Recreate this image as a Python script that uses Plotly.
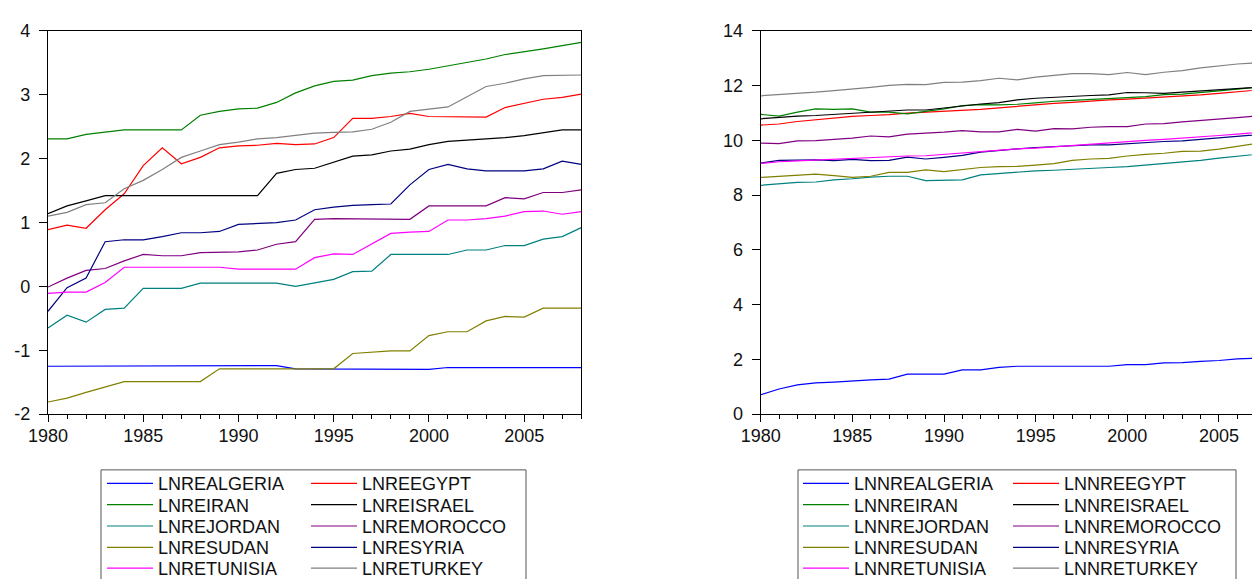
import plotly.graph_objects as go

W, H = 1260, 579

years = list(range(1980, 2009))

names_left = ["LNREALGERIA", "LNREEGYPT", "LNREIRAN", "LNREISRAEL", "LNREJORDAN",
              "LNREMOROCCO", "LNRESUDAN", "LNRESYRIA", "LNRETUNISIA", "LNRETURKEY"]
names_right = ["LNNREALGERIA", "LNNREEGYPT", "LNNREIRAN", "LNNREISRAEL", "LNNREJORDAN",
               "LNNREMOROCCO", "LNNRESUDAN", "LNNRESYRIA", "LNNRETUNISIA", "LNNRETURKEY"]
colors = ["#0000FF", "#FF0000", "#008000", "#000000", "#008080",
          "#800080", "#808000", "#000080", "#FF00FF", "#808080"]

# ---- left panel (LNRE...) ----
ALGERIA = [-1.25, -1.25, -1.25, -1.25, -1.25, -1.25, -1.25, -1.25, -1.25, -1.24,
           -1.24, -1.24, -1.24, -1.29, -1.29, -1.29, -1.29, -1.29, -1.30, -1.30,
           -1.30, -1.27, -1.27, -1.27, -1.27, -1.27, -1.27, -1.27, -1.27]
EGYPT = [0.89, 0.96, 0.91, 1.20, 1.45, 1.89, 2.17, 1.92, 2.02, 2.17,
         2.20, 2.21, 2.24, 2.22, 2.23, 2.33, 2.63, 2.63, 2.66, 2.71,
         2.66, 2.66, 2.65, 2.65, 2.80, 2.86, 2.93, 2.96, 3.01]
IRAN = [2.31, 2.31, 2.38, 2.42, 2.45, 2.45, 2.45, 2.45, 2.68, 2.74,
        2.78, 2.79, 2.88, 3.03, 3.14, 3.21, 3.23, 3.30, 3.34, 3.36,
        3.40, 3.45, 3.51, 3.56, 3.63, 3.67, 3.72, 3.77, 3.82]
ISRAEL = [1.14, 1.26, 1.34, 1.42, 1.42, 1.42, 1.42, 1.42, 1.42, 1.42,
          1.42, 1.42, 1.77, 1.83, 1.85, 1.94, 2.04, 2.06, 2.12, 2.15,
          2.22, 2.27, 2.29, 2.30, 2.33, 2.36, 2.41, 2.45, 2.45]
JORDAN = [-0.65, -0.45, -0.56, -0.36, -0.34, -0.03, -0.03, -0.03, 0.05, 0.05,
          0.05, 0.05, 0.05, 0.00, 0.06, 0.11, 0.23, 0.24, 0.50, 0.50,
          0.50, 0.50, 0.57, 0.57, 0.64, 0.64, 0.74, 0.78, 0.92]
MOROCCO = [-0.01, 0.13, 0.25, 0.28, 0.40, 0.50, 0.48, 0.48, 0.53, 0.54,
           0.54, 0.57, 0.66, 0.70, 1.05, 1.06, 1.06, 1.05, 1.05, 1.05,
           1.26, 1.26, 1.26, 1.26, 1.39, 1.37, 1.47, 1.47, 1.51]
SUDAN = [-1.81, -1.75, -1.66, -1.58, -1.49, -1.49, -1.49, -1.49, -1.49, -1.29,
         -1.29, -1.29, -1.29, -1.29, -1.29, -1.29, -1.05, -1.03, -1.01, -1.01,
         -0.77, -0.71, -0.71, -0.54, -0.47, -0.48, -0.34, -0.34, -0.34]
SYRIA = [-0.39, -0.02, 0.13, 0.70, 0.73, 0.73, 0.78, 0.84, 0.84, 0.86,
         0.97, 0.99, 1.00, 1.04, 1.20, 1.24, 1.27, 1.28, 1.29, 1.59,
         1.83, 1.91, 1.84, 1.81, 1.81, 1.81, 1.84, 1.96, 1.91]
TUNISIA = [-0.11, -0.09, -0.09, 0.06, 0.30, 0.30, 0.30, 0.30, 0.30, 0.30,
           0.27, 0.27, 0.27, 0.27, 0.45, 0.51, 0.50, 0.67, 0.83, 0.85,
           0.86, 1.04, 1.04, 1.06, 1.10, 1.17, 1.18, 1.13, 1.17]
TURKEY = [1.10, 1.16, 1.28, 1.31, 1.53, 1.66, 1.83, 2.02, 2.12, 2.22,
          2.26, 2.31, 2.33, 2.36, 2.40, 2.41, 2.42, 2.46, 2.57, 2.74,
          2.77, 2.81, 2.97, 3.13, 3.18, 3.25, 3.30, 3.30, 3.31]

# ---- right panel (LNNRE...) ----
ALGERIA_N = [0.71, 0.92, 1.07, 1.14, 1.17, 1.22, 1.25, 1.28, 1.46, 1.46,
             1.46, 1.62, 1.62, 1.71, 1.75, 1.75, 1.75, 1.75, 1.75, 1.75,
             1.81, 1.81, 1.87, 1.88, 1.93, 1.96, 2.02, 2.06, 2.07]
EGYPT_N = [10.56, 10.60, 10.69, 10.76, 10.82, 10.88, 10.91, 10.94, 11.00, 11.03,
           11.06, 11.10, 11.13, 11.19, 11.25, 11.29, 11.35, 11.39, 11.44, 11.48,
           11.51, 11.55, 11.59, 11.61, 11.66, 11.72, 11.78, 11.85, 11.89]
IRAN_N = [10.95, 10.89, 11.03, 11.15, 11.13, 11.15, 11.03, 11.03, 10.97, 11.05,
          11.15, 11.27, 11.31, 11.30, 11.32, 11.37, 11.43, 11.46, 11.49, 11.51,
          11.56, 11.60, 11.67, 11.69, 11.76, 11.81, 11.87, 11.94, 11.97]
ISRAEL_N = [10.79, 10.85, 10.89, 10.91, 10.95, 10.99, 11.03, 11.08, 11.11, 11.11,
            11.18, 11.27, 11.33, 11.38, 11.48, 11.54, 11.58, 11.62, 11.64, 11.66,
            11.75, 11.74, 11.72, 11.76, 11.81, 11.84, 11.90, 11.96, 11.98]
JORDAN_N = [8.36, 8.41, 8.47, 8.48, 8.56, 8.60, 8.66, 8.69, 8.69, 8.53,
            8.54, 8.56, 8.74, 8.79, 8.83, 8.89, 8.91, 8.95, 8.97, 9.01,
            9.04, 9.10, 9.15, 9.20, 9.27, 9.35, 9.43, 9.50, 9.56]
MOROCCO_N = [9.90, 9.88, 9.98, 9.99, 10.04, 10.08, 10.16, 10.13, 10.23, 10.26,
             10.30, 10.36, 10.31, 10.31, 10.40, 10.34, 10.43, 10.42, 10.48, 10.50,
             10.50, 10.60, 10.61, 10.68, 10.73, 10.76, 10.83, 10.89, 10.93]
SUDAN_N = [8.65, 8.69, 8.75, 8.77, 8.71, 8.65, 8.69, 8.83, 8.83, 8.92,
           8.86, 8.93, 9.01, 9.04, 9.05, 9.10, 9.15, 9.27, 9.32, 9.34,
           9.43, 9.49, 9.53, 9.60, 9.61, 9.68, 9.78, 9.88, 9.94]
SYRIA_N = [9.17, 9.27, 9.28, 9.29, 9.26, 9.31, 9.26, 9.27, 9.39, 9.32,
           9.38, 9.45, 9.57, 9.64, 9.69, 9.74, 9.77, 9.81, 9.84, 9.84,
           9.88, 9.93, 9.96, 9.98, 10.04, 10.11, 10.16, 10.22, 10.26]
TUNISIA_N = [9.16, 9.22, 9.25, 9.28, 9.31, 9.35, 9.37, 9.40, 9.43, 9.44,
             9.49, 9.53, 9.60, 9.64, 9.69, 9.72, 9.77, 9.81, 9.86, 9.90,
             9.95, 10.00, 10.04, 10.08, 10.13, 10.18, 10.23, 10.29, 10.34]
TURKEY_N = [11.63, 11.67, 11.70, 11.76, 11.82, 11.87, 11.94, 12.01, 12.05, 12.04,
            12.12, 12.13, 12.18, 12.27, 12.21, 12.31, 12.38, 12.44, 12.44, 12.40,
            12.48, 12.40, 12.49, 12.55, 12.65, 12.73, 12.79, 12.83, 12.84]

left_series = [ALGERIA, EGYPT, IRAN, ISRAEL, JORDAN, MOROCCO, SUDAN, SYRIA, TUNISIA, TURKEY]
right_series = [ALGERIA_N, EGYPT_N, IRAN_N, ISRAEL_N, JORDAN_N, MOROCCO_N,
                SUDAN_N, SYRIA_N, TUNISIA_N, TURKEY_N]

x_tickvals = [1980, 1985, 1990, 1995, 2000, 2005]
x_ticktext = ["1980", "1985", "1990", "1995", "2000", "2005"]
yl_tickvals = [-2, -1, 0, 1, 2, 3, 4]
yl_ticktext = ["-2", "-1", "0", "1", "2", "3", "4"]
yr_tickvals = [0, 2, 4, 6, 8, 10, 12, 14]
yr_ticktext = ["0", "2", "4", "6", "8", "10", "12", "14"]

FONT = "Liberation Sans, Arial, Helvetica, sans-serif"

# ---- layout geometry (pixels) ----
px = lambda v: v / W
py = lambda v: 1 - v / H
PLOT_TOP, PLOT_BOT = 23.3, 413.3
L_X0, L_X1 = 40.0, 573.3
R_X0 = 752.7
R_PX_PER_YEAR = 18.33
r_end = 1980 + (W - R_X0) / R_PX_PER_YEAR

row_y = [484.0, 505.7, 527.4, 549.1, 570.8]
left_text_start = [159.0, 363.0]
right_text_start = [855.0, 1065.0]
ITEMW = 46
TEXT_OFF = ITEMW + 19

fig = go.Figure()
legend_layouts = {}
idx = 0
for panel, (names, series, xa, ya, cols) in enumerate([
        (names_left, left_series, "x", "y", left_text_start),
        (names_right, right_series, "x2", "y2", right_text_start)]):
    for i, (nm, s) in enumerate(zip(names, series)):
        idx += 1
        lname = "legend" if idx == 1 else f"legend{idx}"
        fig.add_trace(go.Scatter(x=years, y=s, mode="lines", name=nm,
                                 line=dict(color=colors[i], width=1.2),
                                 xaxis=xa, yaxis=ya, legend=lname,
                                 showlegend=True))
        r, c = i // 2, i % 2
        legend_layouts[lname] = dict(
            x=px(cols[c] - TEXT_OFF), xanchor="left",
            y=py(row_y[r]), yanchor="middle",
            bgcolor="rgba(0,0,0,0)", borderwidth=0,
            itemwidth=ITEMW, orientation="v",
            font=dict(family=FONT, size=18, color="#111111"),
        )

axis_common = dict(showgrid=False, zeroline=False, showline=True,
                   linecolor="#000000", linewidth=1.2, ticks="outside",
                   tickcolor="#000000", tickwidth=1, automargin=False,
                   tickfont=dict(family=FONT, size=18, color="#111111"))

fig.update_layout(
    width=W, height=H,
    margin=dict(l=0, r=0, t=0, b=0),
    paper_bgcolor="white", plot_bgcolor="white",
    showlegend=True,
    xaxis=dict(domain=[px(L_X0), px(L_X1)], range=[1980, 2008], anchor="y",
               tickmode="array", tickvals=x_tickvals, ticktext=x_ticktext,
               ticklen=7, mirror=True, ticklabelstandoff=-2,
               minor=dict(ticks="outside", ticklen=4, tickmode="linear",
                          tick0=1980, dtick=1, tickcolor="#000000", showgrid=False),
               **axis_common),
    yaxis=dict(domain=[py(PLOT_BOT), py(PLOT_TOP)], range=[-2, 4], anchor="x",
               tickmode="array", tickvals=yl_tickvals, ticktext=yl_ticktext,
               ticklen=8, mirror=True, ticklabelstandoff=5, **axis_common),
    xaxis2=dict(domain=[px(R_X0), 1.0], range=[1980, r_end], anchor="y2",
                tickmode="array", tickvals=x_tickvals, ticktext=x_ticktext,
                ticklen=7, mirror=True, ticklabelstandoff=-2,
                minor=dict(ticks="outside", ticklen=4, tickmode="linear",
                           tick0=1980, dtick=1, tickcolor="#000000", showgrid=False),
                **axis_common),
    yaxis2=dict(domain=[py(PLOT_BOT), py(PLOT_TOP)], range=[0, 14], anchor="x2",
                tickmode="array", tickvals=yr_tickvals, ticktext=yr_ticktext,
                ticklen=8, mirror=False, ticklabelstandoff=5, **axis_common),
    shapes=[
        dict(type="rect", xref="paper", yref="paper",
             x0=px(93), x1=px(518), y0=-0.1, y1=py(470),
             line=dict(color="#555555", width=1), fillcolor="rgba(0,0,0,0)"),
        dict(type="rect", xref="paper", yref="paper",
             x0=px(790), x1=px(1228), y0=-0.1, y1=py(470),
             line=dict(color="#555555", width=1), fillcolor="rgba(0,0,0,0)"),
    ],
    **legend_layouts,
)

fig.write_html("out.html")
